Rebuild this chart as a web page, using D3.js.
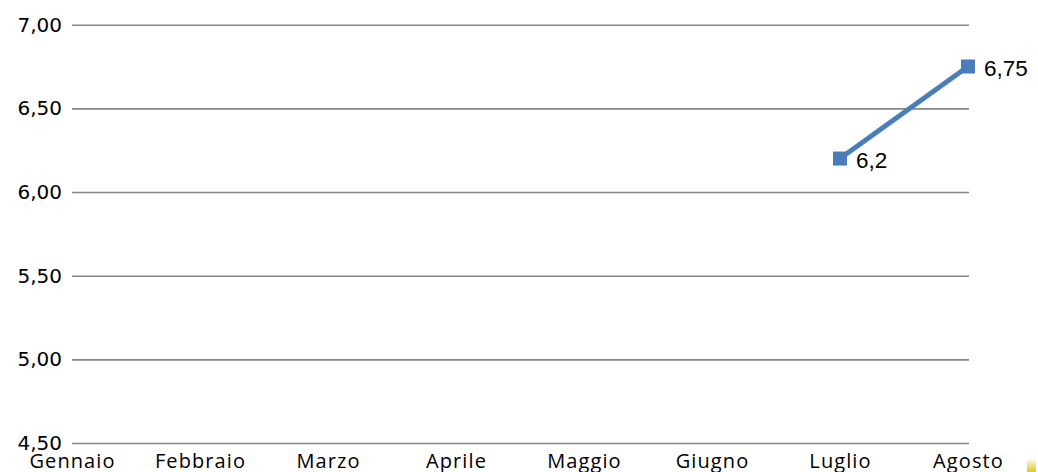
<!DOCTYPE html>
<html>
<head>
<meta charset="utf-8">
<script src="https://cdn.jsdelivr.net/npm/d3@7"></script>
<style>
  html, body { margin: 0; padding: 0; background: #fff; }
  svg { display: block; }
</style>
</head>
<body>
<svg id="chart" width="1038" height="472"></svg>
<script>
(function () {
// Monthly values (only July and August are recorded)
const months = ["Gennaio", "Febbraio", "Marzo", "Aprile", "Maggio", "Giugno", "Luglio", "Agosto"];
const values = [null, null, null, null, null, null, 6.2, 6.75];
const valueLabels = [null, null, null, null, null, null, "6,2", "6,75"];
const yTicks = [4.5, 5.0, 5.5, 6.0, 6.5, 7.0];

const svg = d3.select("#chart");
const plotLeft = 72, plotRight = 968, plotTop = 24.7, plotBottom = 443;

const x = d3.scalePoint().domain(months).range([plotLeft, plotRight]);
const y = d3.scaleLinear().domain([4.5, 7]).range([plotBottom, plotTop]);
const fmt = d => d.toFixed(2).replace(".", ",");

// Horizontal gridlines with value labels
const yAxis = d3.axisLeft(y).tickValues(yTicks).tickFormat(fmt)
  .tickSize(-(plotRight - plotLeft + 1)).tickPadding(10);
const gy = svg.append("g").attr("transform", `translate(${plotLeft},0)`).call(yAxis);
gy.select(".domain").remove();
gy.selectAll(".tick line").attr("stroke", "#878787").attr("stroke-width", 1.6);
gy.selectAll(".tick text")
  .attr("font-family", "DejaVu Sans, sans-serif")
  .attr("font-size", 20)
  .attr("fill", "#000");

// Month labels along the bottom
const xAxis = d3.axisBottom(x).tickSize(0).tickPadding(0);
const gx = svg.append("g").attr("transform", `translate(0,${plotBottom})`).call(xAxis);
gx.select(".domain").remove();
gx.selectAll(".tick text")
  .attr("font-family", "Open Sans, Lato, sans-serif")
  .attr("font-size", 20)
  .attr("letter-spacing", 1.1)
  .attr("fill", "#000")
  .attr("dy", null)
  .attr("y", 25);

// Series line
const pts = months.map((m, i) => ({ m, v: values[i], label: valueLabels[i] }));
const line = d3.line().defined(d => d.v != null).x(d => x(d.m)).y(d => y(d.v));
svg.append("path")
  .datum(pts)
  .attr("fill", "none")
  .attr("stroke", "#4a7ebb")
  .attr("stroke-width", 5)
  .attr("d", line);

const defined = pts.filter(d => d.v != null);
const ms = 14;
svg.selectAll("rect.marker")
  .data(defined)
  .join("rect")
  .attr("class", "marker")
  .attr("x", d => x(d.m) - ms / 2)
  .attr("y", d => y(d.v) - ms / 2)
  .attr("width", ms)
  .attr("height", ms)
  .attr("fill", "#4a7ebb");

svg.selectAll("text.vlabel")
  .data(defined)
  .join("text")
  .attr("class", "vlabel")
  .attr("x", d => x(d.m) + 16)
  .attr("y", d => y(d.v) + 9.5)
  .attr("font-family", "Liberation Sans, Arial, sans-serif")
  .attr("font-size", 22.5)
  .attr("fill", "#000")
  .text(d => d.label);

// Small corner accent
const grad = svg.append("defs").append("linearGradient")
  .attr("id", "accent").attr("x1", 0).attr("y1", 0).attr("x2", 0).attr("y2", 1);
grad.append("stop").attr("offset", "0%").attr("stop-color", "#fbfbe8");
grad.append("stop").attr("offset", "100%").attr("stop-color", "#d6c92a");
svg.append("rect")
  .attr("x", 1027).attr("y", 459).attr("width", 9).attr("height", 13)
  .attr("fill", "url(#accent)");
})();
</script>
</body>
</html>
